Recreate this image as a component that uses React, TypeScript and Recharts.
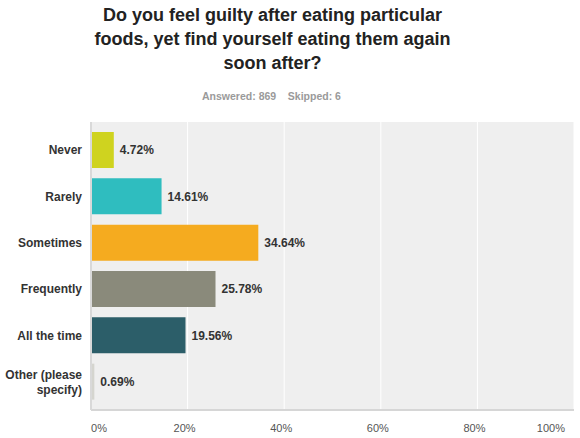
import { BarChart, Bar, XAxis, YAxis, CartesianGrid, Cell, LabelList } from "recharts";

const answers = ["Never", "Rarely", "Sometimes", "Frequently", "All the time", "Other (please specify)"];
const percents = [4.72, 14.61, 34.64, 25.78, 19.56, 0.69];
const barColors = ["#cfd31f", "#2fbdbf", "#f5ab1f", "#8a8a7b", "#2c5e69", "#d5d5cf"];
const xTicks = [0, 20, 40, 60, 80, 100];

const answered = 869;
const skipped = 6;

const data = answers.map((answer, i) => ({ answer, value: percents[i] }));

const font = "Arial, 'Liberation Sans', sans-serif";

// greedy word wrap on character count, enough for these short labels
function wrap(label: string, maxChars: number) {
  const lines: string[] = [];
  let cur = "";
  for (const w of label.split(" ")) {
    const next = cur ? cur + " " + w : w;
    if (next.length > maxChars && cur) {
      lines.push(cur);
      cur = w;
    } else {
      cur = next;
    }
  }
  if (cur) lines.push(cur);
  return lines;
}

function YTick(props: any) {
  const { x, y, payload } = props;
  const lines = wrap(String(payload.value), 14);
  const lh = 15;
  return (
    <text textAnchor="end" fontSize={12} fontWeight="bold" fontFamily={font} fill="#333">
      {lines.map((line, i) => (
        <tspan key={i} x={x} y={y + (i - (lines.length - 1) / 2) * lh} dy="0.35em">
          {line}
        </tspan>
      ))}
    </text>
  );
}

function XTick(props: any) {
  const { x, y, payload } = props;
  let anchor = "middle";
  let dx = -3;
  if (payload.value === 0) {
    anchor = "start";
    dx = 0;
  } else if (payload.value === 100) {
    anchor = "end";
    dx = -3;
  }
  return (
    <text x={x + dx} y={y} dy="0.71em" textAnchor={anchor} fontSize={11} fontFamily={font} fill="#555">
      {payload.value}%
    </text>
  );
}

export default function App() {
  return (
    <div style={{ position: "absolute", left: 0, top: 0, width: 580, height: 438, background: "#fff", fontFamily: font }}>
      <div
        style={{
          position: "absolute",
          left: 0,
          top: 3,
          width: 545,
          textAlign: "center",
          fontSize: 18,
          fontWeight: "bold",
          lineHeight: "24px",
          color: "#222",
        }}
      >
        Do you feel guilty after eating particular
        <br />
        foods, yet find yourself eating them again
        <br />
        soon after?
      </div>
      <div
        style={{
          position: "absolute",
          left: 0,
          top: 90,
          width: 543,
          textAlign: "center",
          fontSize: 10.5,
          fontWeight: "bold",
          color: "#9a9a9a",
        }}
      >
        Answered: {answered}&nbsp;&nbsp;&nbsp; Skipped: {skipped}
      </div>
      <BarChart
        width={580}
        height={438}
        data={data}
        layout="vertical"
        margin={{ top: 122, right: 6, bottom: 0, left: 0 }}
        barCategoryGap={10}
        style={{ position: "absolute", left: 0, top: 0 }}
      >
        <CartesianGrid horizontal={false} stroke="#ffffff" fill="#efefef" />
        <XAxis
          type="number"
          domain={[0, 100]}
          ticks={xTicks}
          height={28}
          tickLine={false}
          tickMargin={8}
          axisLine={{ stroke: "#d6d6d6", strokeWidth: 2 }}
          tick={<XTick />}
        />
        <YAxis
          type="category"
          dataKey="answer"
          width={91}
          tickLine={false}
          tickMargin={3}
          padding={{ top: 5, bottom: 5 }}
          axisLine={{ stroke: "#d9d9d9", strokeWidth: 2 }}
          tick={<YTick />}
        />
        <Bar dataKey="value" barSize={36} isAnimationActive={false}>
          {data.map((d, i) => (
            <Cell key={d.answer} fill={barColors[i]} />
          ))}
          <LabelList
            dataKey="value"
            position="right"
            offset={6}
            formatter={(v: any) => `${Number(v).toFixed(2)}%`}
            style={{ fontSize: 12, fontWeight: "bold", fill: "#333", fontFamily: font }}
          />
        </Bar>
      </BarChart>
    </div>
  );
}
